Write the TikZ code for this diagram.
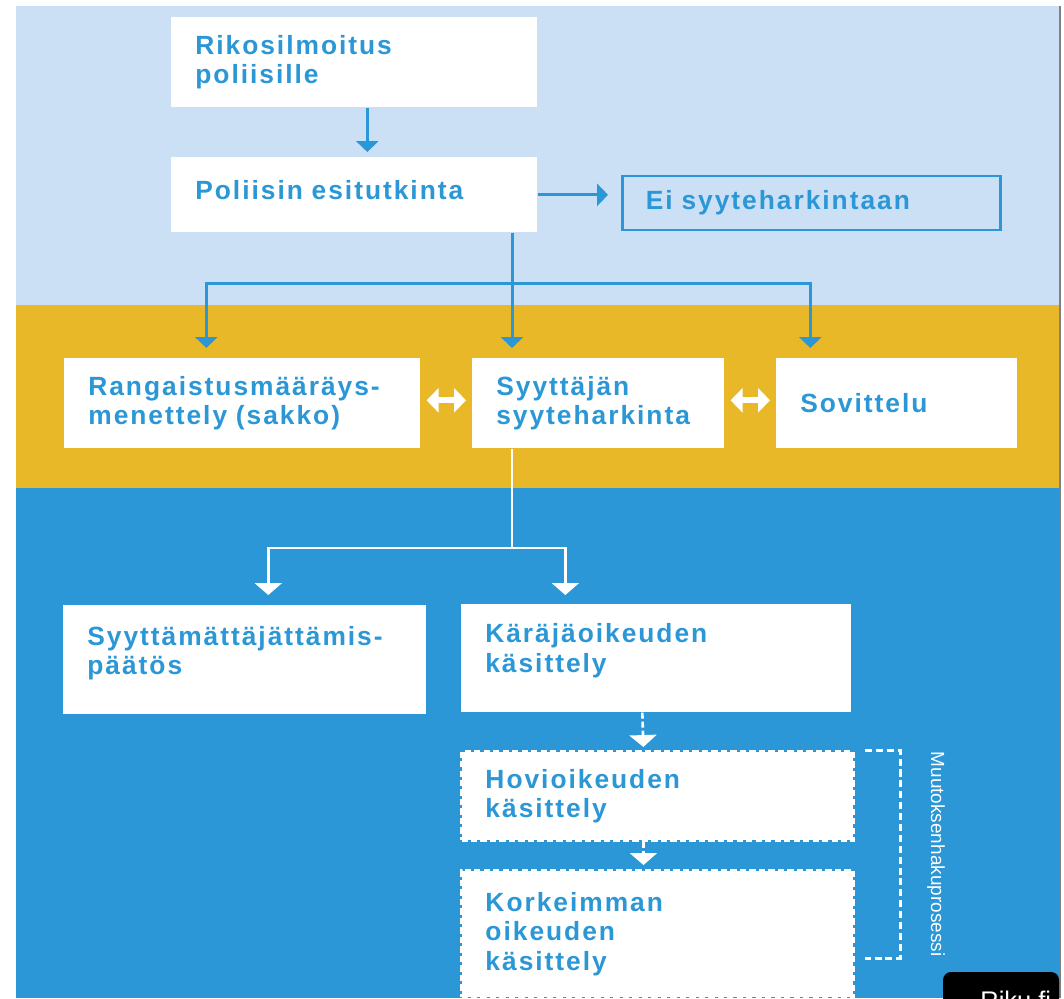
\documentclass[tikz,border=0pt]{standalone}
\usepackage{fontspec}
\setmainfont{Liberation Sans}
\newfontfamily\labelfont{Liberation Sans}[LetterSpace=7.5]
\usetikzlibrary{arrows.meta,positioning,calc}

\definecolor{skyfill}{HTML}{CBE0F4}
\definecolor{mustard}{HTML}{E9B829}
\definecolor{rikublue}{HTML}{2B97D6}
\newcommand\boxfont{\labelfont\bfseries\fontsize{15}{16.7}\selectfont}
\hyphenpenalty=10000

\begin{document}
\begin{tikzpicture}[x=0.02cm, y=-0.02cm,
  stage/.style={fill=white, anchor=north west, inner xsep=0.48cm, inner ysep=0pt,
    align=left, text=rikublue, font=\boxfont},
  appeal/.style={stage, draw=white, line width=1.7pt, dash pattern=on 3.6pt off 1.8pt},
  bluearrow/.style={draw=rikublue, line width=1.7pt, -{Triangle[width=12.5pt,length=6.2pt]}},
  whitearrow/.style={draw=white, line width=1.5pt, -{Triangle[width=15.3pt,length=6.8pt]}},
  twoway/.style={draw=white, line width=3.5pt,
    {Triangle[width=13.6pt,length=6.8pt]}-{Triangle[width=13.6pt,length=6.8pt]}}]
  \useasboundingbox (0,0) rectangle (1064,998);
  % Background bands
  \fill[white] (0,0) rectangle (1064,998);
  \fill[skyfill] (16,6) rectangle (1059,305);
  \fill[mustard] (16,305) rectangle (1059,488);
  \fill[rikublue] (16,488) rectangle (1059,998);
  \draw[gray, line width=1.1pt] (1060,6) -- (1060,998);

  % Police
  \node[stage, text width=6.36cm, minimum height=1.8cm] (rikos) at (171,17) {Rikosilmoitus\\poliisille};
  \node[stage, text width=6.36cm, minimum height=1.5cm] (poliisi) at (171,157) {Poliisin esitutkinta\par\vspace*{0.2cm}};
  \node[stage, fill=none, draw=rikublue, line width=1pt, inner xsep=0.46cm,
    text width=6.62cm, minimum height=1.08cm] (eisyyte) at (622,175) {Ei syyteharkintaan};
  \draw[rikublue, line width=1.7pt] (eisyyte.north west) -- (eisyyte.south west)
    (eisyyte.north east) -- (eisyyte.south east);

  % Prosecutor
  \node[stage, text width=6.16cm, minimum height=1.8cm] (rangaistus) at (64,358) {Rangaistusmääräys-\\menettely (sakko)};
  \node[stage, text width=4.08cm, minimum height=1.8cm] (syyttaja) at (472,358) {Syyttäjän\\syyteharkinta};
  \node[stage, text width=3.86cm, minimum height=1.8cm] (sovittelu) at (776,358) {Sovittelu};

  % Courts
  \node[stage, text width=6.30cm, minimum height=2.18cm] (jattaminen) at (63,605) {Syyttämättäjättämis-\\päätös\par\vspace*{0.26cm}};
  \node[stage, text width=6.84cm, minimum height=2.16cm] (karaja) at (461,604) {Käräjäoikeuden\\käsittely\par\vspace*{0.3cm}};
  \node[appeal, text width=6.88cm, minimum height=1.78cm] (hovi) at (460,750) {Hovioikeuden\\käsittely};
  \node[appeal, text width=6.88cm, minimum height=2.54cm] (korkein) at (460,869) {Korkeimman\\oikeuden\\käsittely};

  % Arrows in the police band
  \draw[bluearrow, shorten >=0.1cm] ([xshift=0.26cm]rikos.south) -- ([xshift=0.26cm]poliisi.north);
  \draw[bluearrow, shorten >=0.28cm] (poliisi.east) -- (poliisi.east -| eisyyte.west);
  \coordinate (fork1) at (512,283);
  \draw[rikublue, line width=1.7pt] (fork1 |- poliisi.south) -- (fork1);
  \draw[bluearrow, shorten >=0.2cm] (fork1) -- (fork1 |- syyttaja.north);
  \draw[bluearrow, shorten >=0.2cm] (fork1) -| ([xshift=-0.72cm]rangaistus.north);
  \draw[bluearrow, shorten >=0.2cm] (fork1) -| ([xshift=-1.73cm]sovittelu.north);

  % Two-way arrows
  \draw[twoway, shorten <=0.12cm, shorten >=0.12cm] ([yshift=0.06cm]rangaistus.east) -- ([yshift=0.06cm]syyttaja.west);
  \draw[twoway, shorten <=0.12cm, shorten >=0.12cm] ([yshift=0.06cm]syyttaja.east) -- ([yshift=0.06cm]sovittelu.west);

  % Arrows in the court band
  \coordinate (fork2) at (512,548);
  \draw[white, line width=1.5pt] (fork2 |- syyttaja.south) -- (fork2);
  \draw[whitearrow, shorten >=0.2cm] (fork2) -| ([xshift=0.47cm]jattaminen.north);
  \draw[whitearrow, shorten >=0.18cm] (fork2) -| ([xshift=-1.82cm]karaja.north);
  \draw[whitearrow, dash pattern=on 3.4pt off 1.7pt, shorten >=0.06cm]
    ([xshift=-0.28cm]karaja.south) -- ([xshift=-0.28cm]hovi.north);
  \draw[whitearrow, dash pattern=on 3.4pt off 1.7pt, shorten >=0.08cm]
    ([xshift=-0.28cm]hovi.south) -- ([xshift=-0.28cm]korkein.north);

  % Appeal bracket
  \draw[white, line width=1.7pt, dash pattern=on 4pt off 2.2pt] (865,750) -- (900,750) -- (900,958) -- (865,958);
  \node[text=white, rotate=-90, inner sep=0pt, font=\fontsize{10.8}{13}\selectfont] (muutos) at (936,854) {Muutoksenhakuprosessi};

  % Badge
  \fill[black, rounded corners=0.16cm] (943,972) rectangle (1059,1020);
  \node[text=white, anchor=base west, inner sep=0pt, font=\fontsize{14.5}{16}\selectfont] (riku) at (980,1009) {Riku.fi};
\end{tikzpicture}
\end{document}
